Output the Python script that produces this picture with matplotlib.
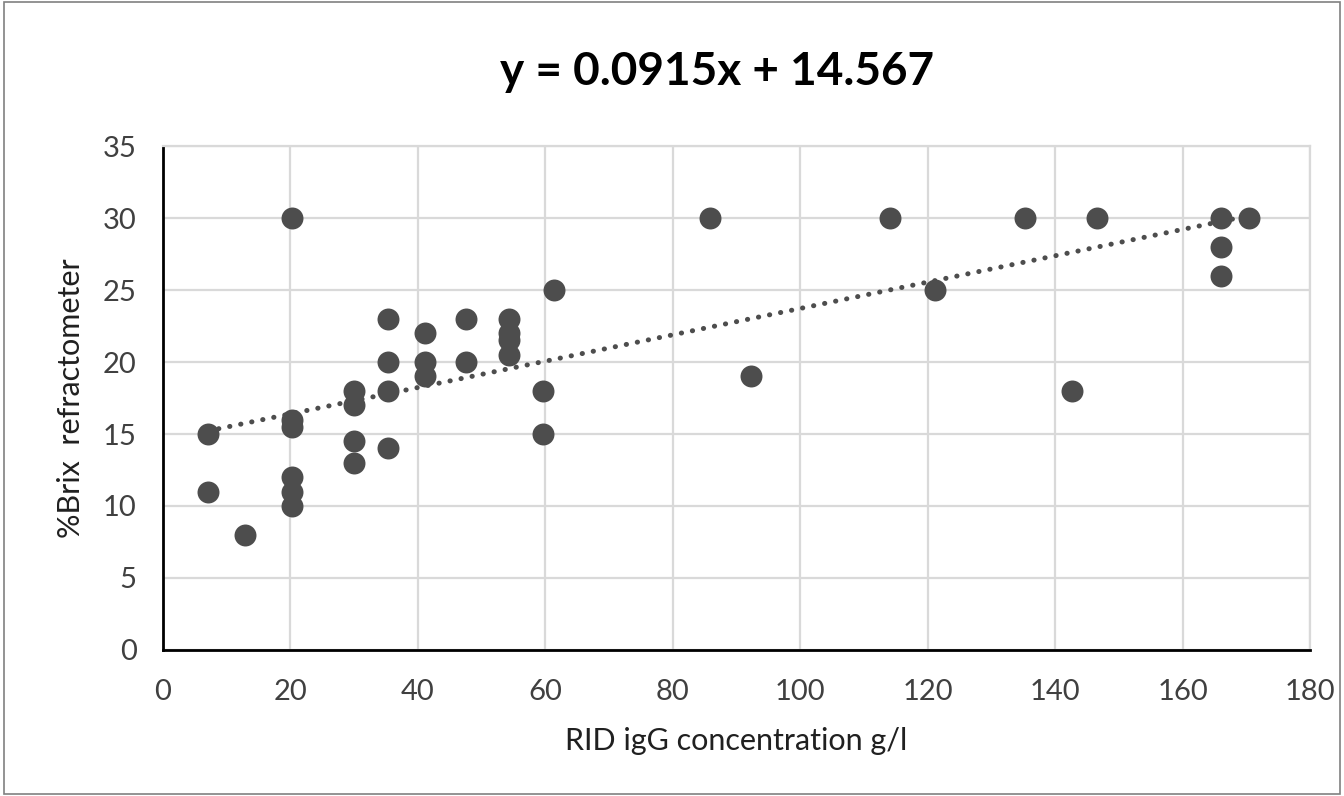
import matplotlib
matplotlib.use("Agg")
import matplotlib.pyplot as plt
from matplotlib.patches import Rectangle
import numpy as np

# Data
rid_igg = [7, 7, 12.8, 20.3, 20.3, 20.3, 20.3, 20.3, 20.3,
           30, 30, 30, 30, 35.3, 35.3, 35.3, 35.3,
           41.1, 41.1, 41.1, 47.5, 47.5,
           54.3, 54.3, 54.3, 54.3, 59.7, 59.7, 61.4,
           85.8, 92.2, 114.1, 121.1, 135.3, 142.6, 146.6,
           166, 166, 166, 170.4]
brix = [15, 11, 8, 30, 16, 15.5, 12, 11, 10,
        18, 17, 14.5, 13, 23, 20, 18, 14,
        22, 20, 19, 23, 20,
        23, 22, 21.5, 20.5, 18, 15, 25,
        30, 19, 30, 25, 30, 18, 30,
        30, 28, 26, 30]
slope = 0.0915
intercept = 14.567
x_ticks = [0, 20, 40, 60, 80, 100, 120, 140, 160, 180]
y_ticks = [0, 5, 10, 15, 20, 25, 30, 35]

plt.rcParams['font.family'] = ['Lato', 'DejaVu Sans']

fig = plt.figure(figsize=(13.44, 7.96), dpi=100)
ax = fig.add_axes([163/1344, 1-650/796, (1310-163)/1344, (650-146)/796])

grid_c = '#d9d9d9'
pt_c = '#4d4d4d'

ax.scatter(rid_igg, brix, s=250, color=pt_c, zorder=3, linewidths=0)

xs = np.array([min(rid_igg), max(rid_igg)])
ax.plot(xs, slope*xs + intercept, color=pt_c, linewidth=3.6,
        linestyle=(0, (0.05, 2.2)), dash_capstyle='round', zorder=4)

ax.set_xlim(0, 180)
ax.set_ylim(0, 35)
ax.set_xticks(x_ticks)
ax.set_yticks(y_ticks)
ax.tick_params(length=0, labelsize=21, colors='#404040')
ax.tick_params(axis='x', pad=21)
ax.tick_params(axis='y', pad=19)
ax.grid(True, color=grid_c, linewidth=1.6, zorder=0)
ax.set_axisbelow(True)

for s in ['top', 'right']:
    ax.spines[s].set_color(grid_c)
    ax.spines[s].set_linewidth(1.6)
for s in ['left', 'bottom']:
    ax.spines[s].set_color('black')
    ax.spines[s].set_linewidth(2)

ax.set_xlabel('RID igG concentration g/l', fontsize=22, color='#202020', labelpad=16)
ax.set_ylabel('%Brix  refractometer', fontsize=22, color='#202020', labelpad=13)

fig.text(717/1344, 1-72/796, 'y = 0.0915x + 14.567', fontsize=33, fontweight='bold',
         ha='center', va='center', color='black')

fig.patches.append(Rectangle((0.003, 0.003), 0.994, 0.994, transform=fig.transFigure,
                             fill=False, edgecolor='#808080', linewidth=1.2))

fig.savefig('out.png', dpi=100)
